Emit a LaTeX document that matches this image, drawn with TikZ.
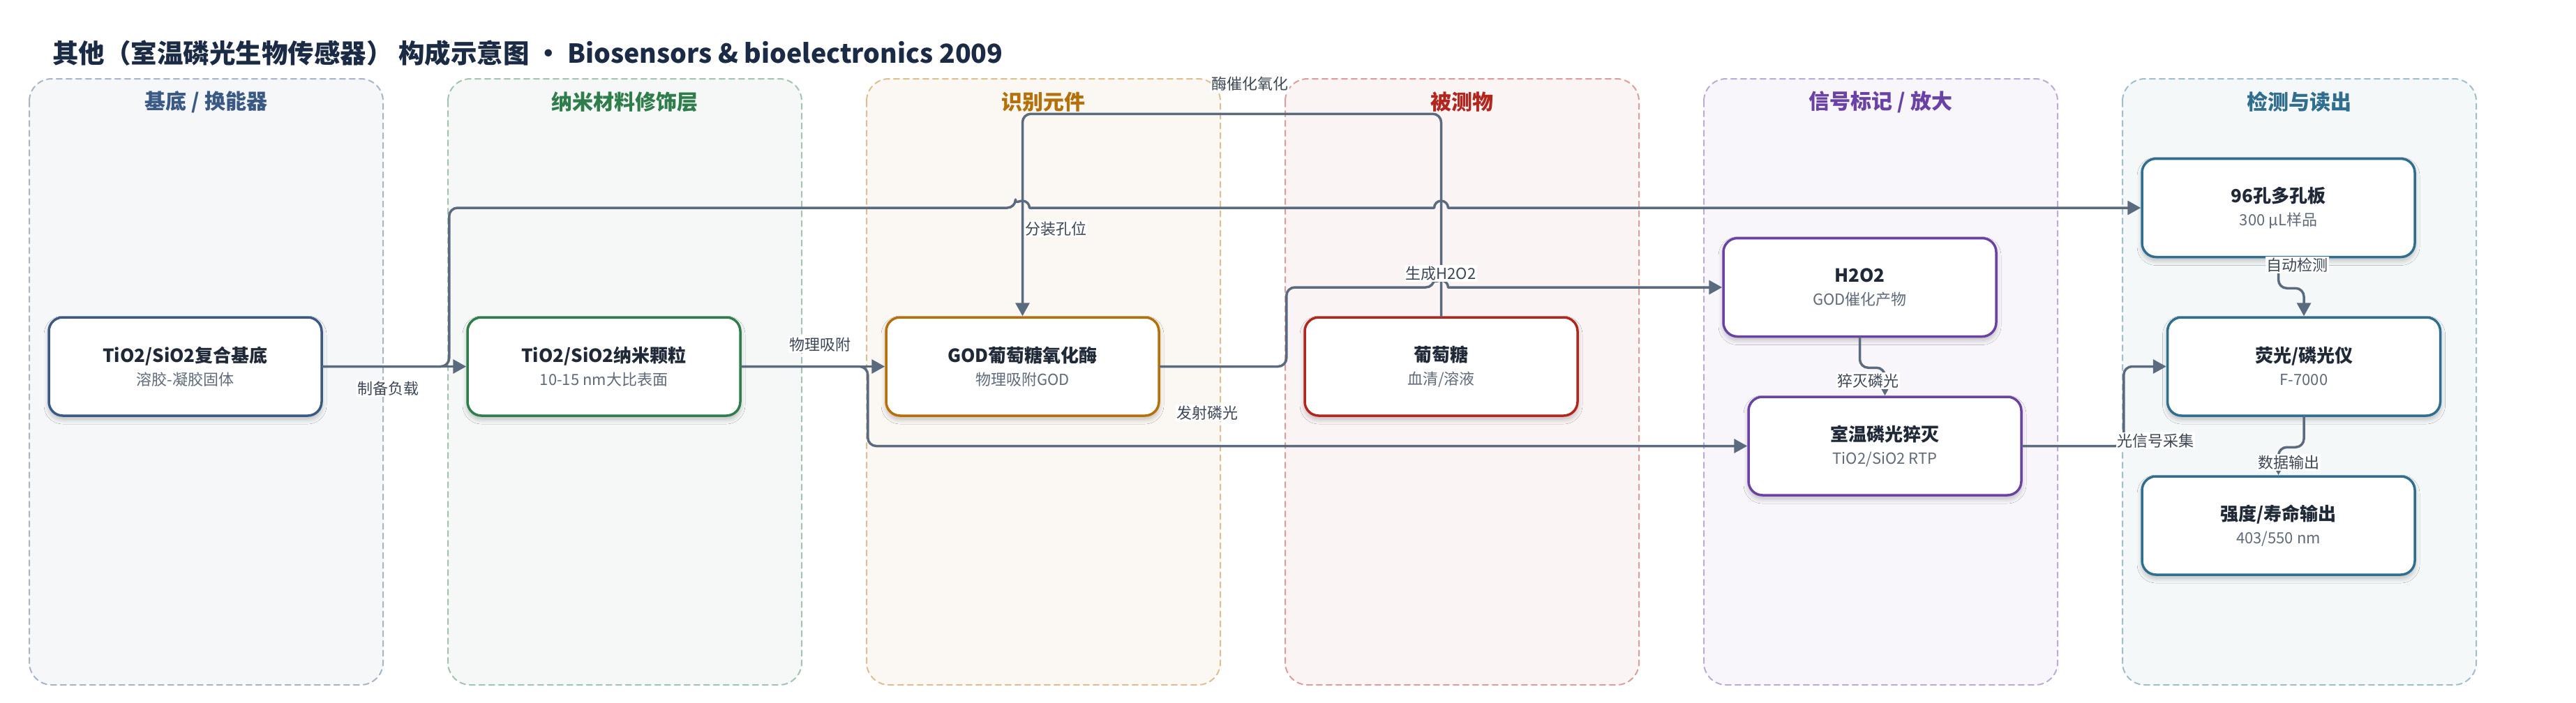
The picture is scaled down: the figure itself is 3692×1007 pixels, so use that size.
\documentclass[tikz,border=0pt]{standalone}
\usepackage{fontspec}
\setmainfont{Noto Sans CJK SC}
\usepackage{tikz}
\usetikzlibrary{arrows.meta}
\usetikzlibrary{calc}
\usetikzlibrary{shadows.blur}

\definecolor{titlec}{HTML}{1B2B45}
\definecolor{basec}{HTML}{3A5A85}
\definecolor{nanoc}{HTML}{2E7D4A}
\definecolor{godc}{HTML}{B5700A}
\definecolor{gluc}{HTML}{B3261E}
\definecolor{sigc}{HTML}{6A42A6}
\definecolor{detc}{HTML}{2F6E8E}
\definecolor{edgec}{HTML}{5B6B7F}
\definecolor{labelc}{HTML}{3D4756}
\definecolor{boxtitlec}{HTML}{1F2937}
\definecolor{subc}{HTML}{5F6B7A}

\newcommand{\boxtext}[2]{{\fontsize{26}{33}\selectfont\bfseries\color{boxtitlec}#1}\\{\color{subc}#2}}

\tikzset{
  lane/.style={draw=#1!45, fill=#1!5, line width=2pt, dash pattern=on 8pt off 6pt, rounded corners=32pt},
  lanehead/.style={text=#1, inner sep=0pt, font=\fontsize{30}{36}\selectfont\bfseries},
  box/.style={draw=#1, fill=white, line width=3.5pt, rounded corners=20pt,
    minimum width=391pt, minimum height=141pt, align=center, inner sep=0pt,
    font=\fontsize{22}{33}\selectfont,
    blur shadow={shadow xshift=0pt, shadow yshift=-5pt, shadow blur radius=7pt, shadow blur steps=10, shadow opacity=25}},
  conn/.style={draw=edgec, line width=3.5pt, rounded corners=12pt, ->},
  lbl/.style={fill=white, text=labelc, inner sep=1.5pt, font=\fontsize{22}{26}\selectfont},
}

\begin{document}
\begin{tikzpicture}[x=1pt, y=-1pt, line cap=round, line join=round, >={Triangle[length=19pt, width=20pt]}]
  \fill[white] (0,0) rectangle (3692,1007);
  \useasboundingbox (0,0) rectangle (3692,1007);
  %--- Title
  \node[anchor=west, inner sep=0pt, text=titlec, font=\fontsize{37.5}{44}\selectfont\bfseries] (title) at (75,76)
    {其他（室温磷光生物传感器） 构成示意图 • Biosensors \& bioelectronics 2009};
  %--- Lanes
  \draw[lane=basec] (42,113) rectangle ++(507,869);
  \node[lanehead=basec] (h-base) at (295.5,146) {基底 / 换能器};
  \draw[lane=nanoc] (642,113) rectangle ++(507,869);
  \node[lanehead=nanoc] (h-nano) at (895.5,146) {纳米材料修饰层};
  \draw[lane=godc] (1242,113) rectangle ++(507,869);
  \node[lanehead=godc] (h-god) at (1495.5,146) {识别元件};
  \draw[lane=gluc] (1842,113) rectangle ++(507,869);
  \node[lanehead=gluc] (h-glu) at (2095.5,146) {被测物};
  \draw[lane=sigc] (2442,113) rectangle ++(507,869);
  \node[lanehead=sigc] (h-sig) at (2695.5,146) {信号标记 / 放大};
  \draw[lane=detc] (3042,113) rectangle ++(507,869);
  \node[lanehead=detc] (h-det) at (3295.5,146) {检测与读出};
  %--- Boxes
  \node[box=basec] (base) at (265.5,525.5) {\boxtext{TiO2/SiO2复合基底}{溶胶-凝胶固体}};
  \node[box=nanoc] (nano) at (865.5,525.5) {\boxtext{TiO2/SiO2纳米颗粒}{10-15 nm大比表面}};
  \node[box=godc] (god) at (1465.5,525.5) {\boxtext{GOD葡萄糖氧化酶}{物理吸附GOD}};
  \node[box=gluc] (glu) at (2065.5,525.5) {\boxtext{葡萄糖}{血清/溶液}};
  \node[box=sigc] (hpo) at (2665.5,412) {\boxtext{H2O2}{GOD催化产物}};
  \node[box=sigc] (rtp) at (2701.5,639.5) {\boxtext{室温磷光猝灭}{TiO2/SiO2 RTP}};
  \node[box=detc] (plate) at (3265.5,298) {\boxtext{96孔多孔板}{300 μL样品}};
  \node[box=detc] (spec) at (3302,525.5) {\boxtext{荧光/磷光仪}{F-7000}};
  \node[box=detc] (out) at (3265.5,753.5) {\boxtext{强度/寿命输出}{403/550 nm}};
  %--- base -> nano
  \draw[conn] (base.east) -- (nano.west);
  %--- base -> plate
  \draw[conn] (base.east) -- ++(181,0) |- ($(god.north |- plate.west)+(-10,0)$)
    [sharp corners] arc[start angle=180, end angle=360, radius=10]
    -- ($(glu.north |- plate.west)+(-10,0)$) arc[start angle=180, end angle=360, radius=10]
    -- (plate.west);
  %--- nano -> GOD
  \draw[conn] (nano.east) -- (god.west);
  %--- nano -> RTP
  \draw[conn] (nano.east) -- ++(181,0) |- (rtp.west);
  %--- GOD -> H2O2
  \draw[conn] (god.east) -- ++(181,0) |- ($(glu.north |- hpo.west)+(-10,0)$)
    [sharp corners] arc[start angle=180, end angle=360, radius=10] -- (hpo.west);
  %--- glucose -> GOD
  \draw[conn] (glu.north) -- ++(0,-290) -| (god.north);
  %--- H2O2 -> RTP
  \draw[conn] (hpo.south) -- ++(0,43) -| (rtp.north);
  %--- RTP -> spectrometer
  \draw[conn] (rtp.east) -- ++(145,0) |- (spec.west);
  %--- plate -> spectrometer
  \draw[conn] (plate.south) -- ++(0,43) -| (spec.north);
  %--- spectrometer -> output
  \draw[conn] (spec.south) -- ++(0,43.5) -| (out.north);
  %--- Labels
  \node[lbl] (l-load) at (556,557) {制备负载};
  \node[lbl] (l-adsorb) at (1175,494) {物理吸附};
  \node[lbl] (l-emit) at (1730,592) {发射磷光};
  \node[lbl] (l-oxid) at (1791,120) {酶催化氧化};
  \node[lbl, anchor=west] (l-well) at (1468,328) {分装孔位};
  \node[lbl] (l-hpo) at (2065,392) {生成H2O2};
  \node[lbl] (l-quench) at (2677,546) {猝灭磷光};
  \node[lbl] (l-collect) at (3089,632) {光信号采集};
  \node[lbl] (l-auto) at (3292,380) {自动检测};
  \node[lbl] (l-data) at (3280,663) {数据输出};
\end{tikzpicture}
\end{document}
